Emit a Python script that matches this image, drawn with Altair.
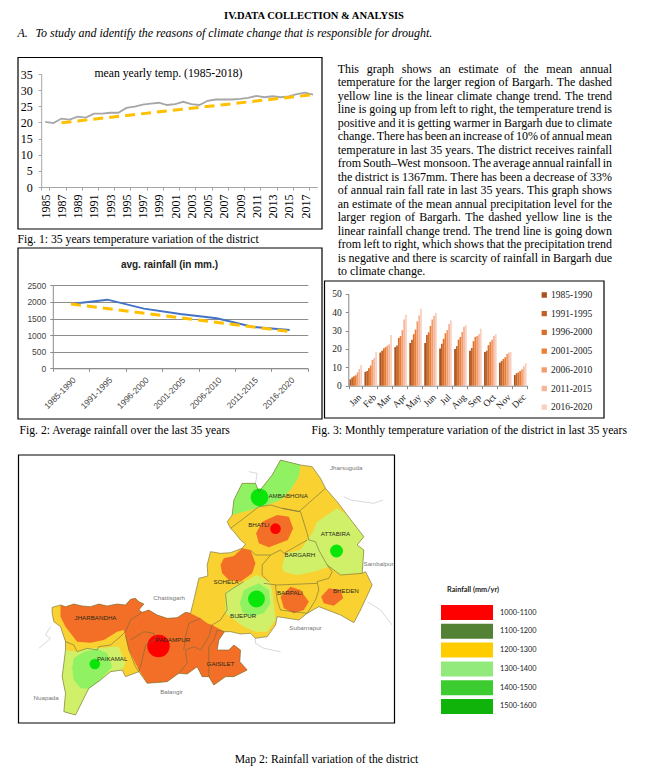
import altair as alt

SERIF = "Liberation Serif"
SANS = "Liberation Sans"
ONE = alt.Data(values=[{"a": 1}])
DX = -5.5

# ---------- chart data ----------
years = [str(y) for y in range(1985, 2019)]
temp = [20.2, 19.8, 21.2, 20.9, 21.8, 21.5, 22.7, 22.7, 23.0, 23.0, 24.5, 24.9, 25.5, 25.8, 26.1, 25.4, 25.7,
        26.4, 25.7, 25.4, 26.7, 27.1, 27.1, 27.1, 27.3, 27.6, 28.2, 27.8, 28.1, 27.8, 28.1, 28.8, 29.2, 28.6]
temp_trend_years = ["1987", "2018"]
temp_trend = [19.9, 28.6]

periods = ["1985-1990", "1991-1995", "1996-2000", "2001-2005", "2006-2010", "2011-2015", "2016-2020"]
rain = [1938, 2068, 1797, 1636, 1506, 1245, 1155]
rain_trend_periods = ["1985-1990", "2016-2020"]
rain_trend = [1935, 1110]

months = ["Jan", "Feb", "Mar", "Apr", "May", "Jun", "Jul", "Aug", "Sep", "Oct", "Nov", "Dec"]
monthly = [
    [3.5, 4.5, 5.2, 5.7, 7.2, 9.0, 11.2],
    [7.5, 8.0, 9.5, 11.0, 14.0, 15.0, 18.3],
    [18.0, 19.0, 20.3, 21.0, 21.8, 22.5, 27.5],
    [21.0, 21.8, 26.0, 27.0, 30.2, 36.0, 38.5],
    [23.2, 25.0, 28.0, 30.5, 35.0, 38.2, 41.8],
    [23.2, 27.5, 29.0, 32.5, 36.0, 38.0, 39.5],
    [20.2, 22.8, 25.5, 28.5, 30.2, 33.5, 35.5],
    [20.0, 21.5, 25.0, 26.5, 29.2, 32.0, 33.0],
    [19.0, 20.5, 24.2, 26.5, 27.0, 28.0, 31.0],
    [18.3, 19.0, 22.0, 23.8, 25.0, 27.0, 28.0],
    [12.5, 13.5, 14.5, 15.5, 17.2, 18.0, 18.3],
    [5.8, 6.8, 7.2, 8.0, 9.0, 10.5, 12.3],
]
bar_colors = ["#a9521f", "#c0622a", "#d6702c", "#ed7d31", "#f19c6e", "#f5b69c", "#f9d0bf"]

legend_ranges = ["1000-1100", "1100-1200", "1200-1300", "1300-1400", "1400-1500", "1500-1600"]
legend_colors = ["#ff0000", "#548235", "#ffcc00", "#92ea7c", "#3ccc30", "#10b30a"]

paragraph = [
    "This graph shows an estimate of the mean annual",
    "temperature for the larger region of Bargarh. The dashed",
    "yellow line is the linear climate change trend. The trend",
    "line is going up from left to right, the temperature trend is",
    "positive and it is getting warmer in Bargarh due to climate",
    "change. There has been an increase of 10% of annual mean",
    "temperature in last 35 years. The district receives rainfall",
    "from South\u2013West monsoon. The average annual rainfall in",
    "the district is 1367mm. There has been a decrease of 33%",
    "of annual rain fall rate in last 35 years. This graph shows",
    "an estimate of the mean annual precipitation level for the",
    "larger region of Bargarh. The dashed yellow line is the",
    "linear rainfall change trend. The trend line is going down",
    "from left to right, which shows that the precipitation trend",
    "is negative and there is scarcity of rainfall in Bargarh due",
    "to climate change.",
]

# ---------- map data (map units: 3 per picture pixel) ----------
outer = [(155,472),(180,465),(195,470),(220,462),(245,468),(270,470),(295,462),(320,468),(350,462),(375,465),
         (390,448),(405,445),(415,455),(430,462),(415,480),(425,487),(445,480),(470,495),(500,505),(530,503),
         (555,487),(570,490),(580,450),(595,385),(622,378),(620,345),(630,305),(660,310),(690,308),(725,295),
         (735,282),(720,270),(700,245),(690,235),(680,215),(695,195),(700,150),(725,100),(765,100),(775,125),
         (795,100),(815,75),(840,30),(900,45),(935,50),(960,85),(975,115),(1010,155),(1040,195),(1090,260),
         (1070,285),(1090,300),(1085,370),(1095,365),(1115,405),(1080,480),(1060,518),(1020,495),(955,470),
         (920,490),(895,510),(830,500),(825,525),(800,560),(765,565),(750,550),(720,552),(690,545),(672,545),
         (655,570),(650,600),(685,600),(700,585),(720,600),(718,635),(740,660),(700,680),(675,680),(640,705),
         (625,680),(605,680),(590,650),(560,672),(535,670),(500,695),(440,700),(415,665),(375,680),(365,660),
         (330,665),(300,690),(265,715),(240,765),(225,795),(190,785),(195,730),(185,680),(195,600),(195,575),
         (180,530),(160,515),(155,490)]
orange_west = [(180,465),(195,470),(220,462),(245,468),(270,470),(295,462),(320,468),(350,462),(375,465),
               (390,448),(405,445),(415,455),(430,462),(415,480),(425,487),(445,480),(470,495),(500,505),(530,503),
               (555,487),(570,490),(600,505),(620,520),(635,525),(672,545),(655,570),(650,600),(685,600),(700,585),
               (720,600),(718,635),(740,660),(700,680),(675,680),(640,705),(625,680),(605,680),(590,650),(560,672),
               (535,670),(500,695),(440,700),(415,660),(385,600),(370,540),(350,545),(310,570),(270,578),(230,575),
               (195,530),(180,500)]
light_paikamal = [(195,600),(225,605),(260,595),(290,595),(340,590),(355,590),(375,640),(365,660),(330,665),
                  (300,690),(265,715),(240,765),(225,795),(190,785),(195,730),(185,680)]
bright_paikamal = [(220,625),(250,605),(290,597),(320,610),(335,650),(300,690),(265,716),(240,715),(220,690),(215,655)]
bright_ambabhona = [(695,195),(700,150),(725,100),(765,100),(775,125),(795,100),(815,75),(840,30),(900,45),(895,80),
                    (870,120),(840,150),(800,165),(750,180)]
orange_bhatli = [(767,250),(785,215),(830,195),(865,200),(878,235),(862,270),(805,292),(775,280)]
light_attabira = [(845,350),(855,310),(900,300),(935,250),(950,215),(1010,175),(1040,195),(1090,260),(1070,285),
                  (1090,300),(1085,370),(1020,375),(985,350),(940,365),(890,375),(850,365)]
orange_sohela = [(660,345),(670,325),(700,318),(725,295),(750,300),(765,340),(755,370),(720,395),(685,390),(665,370)]
light_bijepur = [(675,425),(730,395),(770,375),(805,395),(815,420),(825,510),(800,545),(765,545),(730,530),(675,490)]
bright_bijepur = [(718,460),(730,420),(775,400),(805,420),(810,460),(790,490),(750,500),(725,485)]
orange_barpali = [(840,440),(870,410),(900,420),(925,455),(910,480),(880,490),(850,475)]
orange_bheden = [(962,440),(985,415),(1020,420),(1028,445),(1000,467),(970,460)]

YELLOW, ORANGE, LIGHT, BRIGHT = "#f9d232", "#f36f27", "#d0f06a", "#90f262"
regions = [(YELLOW, outer), (ORANGE, orange_west), (LIGHT, light_paikamal), (BRIGHT, bright_paikamal),
           (BRIGHT, bright_ambabhona), (ORANGE, orange_bhatli), (LIGHT, light_attabira), (ORANGE, orange_sohela),
           (LIGHT, light_bijepur), (BRIGHT, bright_bijepur), (ORANGE, orange_barpali), (ORANGE, orange_bheden)]

block_lines = [
    [(195,575),(220,585),(230,605),(260,595),(290,600),(295,590),(330,585),(365,555),(375,545)],
    [(375,545),(390,510),(425,487)],
    [(375,555),(385,600),(405,650),(415,665)],
    [(390,570),(430,545),(460,550),(470,565),(435,585),(425,630),(415,665)],
    [(535,670),(560,640),(555,600),(580,590),(600,600),(625,560),(635,525)],
    [(600,505),(565,520),(555,560),(550,600)],
    [(690,235),(730,205),(775,170),(810,165),(845,175),(895,185),(935,150),(975,115)],
    [(845,175),(900,185),(920,250),(925,270),(945,275),(955,300),(980,345),(1020,375),(1085,370)],
    [(750,300),(765,315),(810,315),(840,300),(850,310),(920,270)],
    [(810,315),(785,345),(785,375),(805,395)],
    [(980,345),(995,365),(985,385),(950,395),(955,420),(945,450),(920,490)],
    [(790,400),(830,405),(950,400)],
    [(825,405),(830,450),(840,480),(920,490)],
    [(730,395),(690,420),(675,430),(680,480),(660,510),(635,525)],
    [(672,545),(650,540),(640,570),(625,590),(625,680)],
]
outside_lines = [
    [(150,530),(135,555),(150,565),(115,595)],
    [(745,65),(770,70),(765,100)],
    [(1030,140),(1050,150),(1120,160),(1148,150)],
    [(1100,455),(1140,480),(1175,525)],
    [(765,550),(765,580),(790,595),(840,605)],
]

zone_u = [474, 825, 1008, 777, 768, 283]
zone_v = [588, 236, 303, 142, 447, 642]
zone_r = [12.7, 6, 7.3, 10, 9.5, 6]
zone_c = ["#ff0000", "#ff0000", "#0ae60a", "#0ae60a", "#0ae60a", "#0ae60a"]

inner_labels = ["AMBABHONA", "BHATLI", "ATTABIRA", "BARGARH", "SOHELA", "BARPALI", "BHEDEN", "BIJEPUR", "GAISILET",
                "JHARBANDHA", "PADAMPUR", "PAIKAMAL"]
inner_u = [863, 775, 1005, 898, 677, 868, 1036, 728, 660, 285, 517, 335]
inner_v = [137, 226, 251, 315, 396, 428, 422, 497, 641, 503, 570, 627]
outer_labels = ["Jharsuguda", "Sambalpur", "Subarnapur", "Balangir", "Nuapada", "Chattisgarh"]
outer_u = [1037, 1134, 915, 513, 137, 506]
outer_v = [53, 341, 533, 725, 743, 443]


# ---------- helpers ----------
def note(text, x, y, size=11.7, align="left", font=SERIF, color="black", **kw):
    return alt.Chart(ONE).mark_text(text=text, align=align, baseline="middle", font=font, fontSize=size,
                                    color=color, **kw).encode(x=alt.value(x), y=alt.value(y))


def frame(x0, y0, x1, y1):
    return alt.Chart(ONE).mark_rect(fillOpacity=0, stroke="black", strokeWidth=1.2).encode(
        x=alt.value(x0), x2=alt.value(x1), y=alt.value(y0), y2=alt.value(y1))


WIDTHS = {"a":444,"b":500,"c":444,"d":500,"e":444,"f":333,"g":500,"h":500,"i":278,"j":278,"k":500,"l":278,"m":778,
          "n":500,"o":500,"p":500,"q":500,"r":333,"s":389,"t":278,"u":500,"v":500,"w":722,"x":500,"y":500,"z":444,
          ".":250,",":250,"-":333,"\u2013":500,"%":833,"T":611,"B":667,"S":556,"W":944}


def text_width(word, size):
    return sum(WIDTHS.get(ch, 500) for ch in word) * size / 1000


def justified(lines, left, right, top, step, size):
    rows = []
    for i, line in enumerate(lines):
        words = line.split()
        widths = [text_width(w, size) for w in words]
        if i == len(lines) - 1:
            gap = size * 0.25
        else:
            gap = (right - left - sum(widths)) / (len(words) - 1)
        x = left
        for w, wd in zip(words, widths):
            rows.append({"w": w, "px": x, "py": top + i * step})
            x += wd + gap
    return rows


def polygon(pts, color):
    return {"type": "Feature", "properties": {"c": color},
            "geometry": {"type": "Polygon", "coordinates": [[list(p) for p in pts] + [list(pts[0])]]}}


def polyline(pts):
    return {"type": "Feature", "properties": {},
            "geometry": {"type": "LineString", "coordinates": [list(p) for p in pts]}}


PROJ = dict(type="identity", scale=1 / 3, translate=[-8 + DX, -2])

# ---------- header ----------
header = alt.layer(
    note("IV.DATA COLLECTION & ANALYSIS", 305.5 + DX, 7.5, size=10.5, align="center", fontWeight="bold"),
    note("A.", 9 + DX, 24.5, size=12, fontStyle="italic"),
    note("To study and identify the reasons of climate change that is responsible for drought.", 27 + DX, 24.5,
         size=12, fontStyle="italic"),
).properties(width=640, height=48)

# ---------- chart 1 ----------
serif_axis = dict(domainColor="#a6a6a6", tickColor="#a6a6a6", labelFont=SERIF, labelColor="black", title=None,
                  grid=False, tickSize=3)
x1 = alt.X("year:N", sort=years, scale=alt.Scale(type="band", domain=years, range=[32.7 + DX, 308.7 + DX],
                                                 paddingInner=0, paddingOuter=0),
           axis=alt.Axis(orient="bottom", offset=-60, values=years[::2], labelAngle=270, labelFontSize=12,
                         labelPadding=4, tickBand="extent", labelOverlap=False, **serif_axis))
y1 = alt.Y("v:Q", scale=alt.Scale(domain=[0, 35], range=[131, 18], nice=False),
           axis=alt.Axis(orient="left", offset=-(32.7 + DX), values=list(range(0, 36, 5)), labelFontSize=12,
                         labelPadding=6, **serif_axis))
temp_data = alt.Data(values=[{"year": y, "v": v} for y, v in zip(years, temp)])
temp_trend_data = alt.Data(values=[{"year": y, "v": v} for y, v in zip(temp_trend_years, temp_trend)])
chart1 = alt.layer(
    frame(9.5 + DX, 1.5, 313.5 + DX, 173),
    alt.Chart(temp_data).mark_line(color="#a6a6a6", strokeWidth=1.8).encode(x=x1, y=y1),
    alt.Chart(temp_trend_data).mark_line(color="#ffc000", strokeWidth=3, strokeDash=[10, 6]).encode(x=x1, y=y1),
    note("mean yearly temp. (1985-2018)", 160 + DX, 17, align="center"),
    note("Fig. 1: 35 years temperature variation of the district", 9 + DX, 183),
).properties(width=314 + DX, height=191)

# ---------- chart 2 ----------
sans_axis = dict(domainColor="#8c8c8c", tickColor="#8c8c8c", labelFont=SANS, labelColor="#444444", labelFontSize=8.5,
                 title=None, tickSize=3)
x2 = alt.X("p:N", sort=periods, scale=alt.Scale(type="band", domain=periods, range=[44.3 + DX, 299.3 + DX],
                                                paddingInner=0, paddingOuter=0),
           axis=alt.Axis(orient="bottom", offset=-54.7, labelAngle=315, labelPadding=4, tickBand="extent", grid=False,
                         labelOverlap=False, **sans_axis))
y2 = alt.Y("v:Q", scale=alt.Scale(domain=[0, 2500], range=[121.3, 38.3], nice=False),
           axis=alt.Axis(orient="left", offset=-(44.3 + DX), values=list(range(0, 2501, 500)), grid=True, format="d",
                         gridColor="#8c8c8c", labelPadding=4, **sans_axis))
rain_data = alt.Data(values=[{"p": p, "v": v} for p, v in zip(periods, rain)])
rain_trend_data = alt.Data(values=[{"p": p, "v": v} for p, v in zip(rain_trend_periods, rain_trend)])
chart2 = alt.layer(
    frame(9.5 + DX, 1, 313.5 + DX, 172),
    alt.Chart(rain_data).mark_line(color="#4472c4", strokeWidth=2).encode(x=x2, y=y2),
    alt.Chart(rain_trend_data).mark_line(color="#ffc000", strokeWidth=3, strokeDash=[10, 6]).encode(x=x2, y=y2),
    note("avg. rainfall (in mm.)", 161 + DX, 18, size=10, align="center", font=SANS, color="#222222",
         fontWeight="bold"),
).properties(width=314 + DX, height=176)

# ---------- paragraph ----------
para_rows = justified(paragraph, 14.7, 289, 13, 13.47, 12)
para = alt.Chart(alt.Data(values=para_rows)).mark_text(
    align="left", baseline="middle", font=SERIF, fontSize=12, color="black"
).encode(x=alt.X("px:Q", scale=None), y=alt.Y("py:Q", scale=None), text="w:N").properties(width=330, height=223)

# ---------- chart 3 ----------
bar_rows = [{"m": m, "s": s, "v": row[j]} for m, row in zip(months, monthly) for j, s in enumerate(periods)]
chart3 = alt.layer(
    frame(1.5, 2, 281, 139),
    alt.Chart(alt.Data(values=bar_rows)).mark_bar().encode(
        x=alt.X("m:N", sort=months, scale=alt.Scale(type="band", domain=months, range=[25.3, 204.7], paddingInner=0.16,
                                                    paddingOuter=0.08),
                axis=alt.Axis(orient="bottom", offset=-37.3, labelAngle=315, labelFontSize=9.5, labelPadding=3,
                              labelColor="#222222", labelFont=SERIF, domainColor="#888888", tickColor="#888888",
                              tickSize=3, tickBand="extent", grid=False, title=None, labelOverlap=False)),
        y=alt.Y("v:Q", scale=alt.Scale(domain=[0, 50], range=[106.7, 14.7], nice=False),
                axis=alt.Axis(orient="left", offset=-25.3, values=list(range(0, 51, 10)), labelFontSize=9.5,
                              labelPadding=4, labelColor="#222222", labelFont=SERIF, domainColor="#888888",
                              tickColor="#888888", tickSize=3, grid=False, title=None)),
        xOffset=alt.XOffset("s:N", sort=periods),
        color=alt.Color("s:N", scale=alt.Scale(domain=periods, range=bar_colors),
                        legend=alt.Legend(orient="none", legendX=216.5, legendY=11, title=None, symbolType="square",
                                          symbolSize=28, symbolStrokeWidth=0, labelFont=SERIF, labelFontSize=9.5,
                                          labelColor="#222222", rowPadding=8.7, clipHeight=10, labelOffset=2)),
    ),
).properties(width=330, height=144)

# ---------- captions under the charts ----------
captions = alt.layer(
    note("Fig. 2: Average rainfall over the last 35 years", 11 + DX, 7),
    note("Fig. 3: Monthly temperature variation of the district in last 35 years", 303 + DX, 7),
).properties(width=635, height=29)

# ---------- map ----------
region_data = alt.Data(values=[polygon(p, c) for c, p in regions])
block_data = alt.Data(values=[polyline(p) for p in block_lines] + [polygon(outer, "none")])
outside_data = alt.Data(values=[polyline(p) for p in outside_lines])
zone_rows = [{"u": u, "v": v, "s": 3.1416 * r * r, "c": c} for u, v, r, c in zip(zone_u, zone_v, zone_r, zone_c)]
inner_rows = [{"t": t, "u": u, "v": v} for t, u, v in zip(inner_labels, inner_u, inner_v)]
outer_rows = [{"t": t, "u": u, "v": v} for t, u, v in zip(outer_labels, outer_u, outer_v)]

map_layers = [
    frame(10 + DX, 3, 386 + DX, 271),
    alt.Chart(outside_data).mark_geoshape(filled=False, stroke="#cfcfcf", strokeWidth=0.8).project(**PROJ),
    alt.Chart(region_data).mark_geoshape(strokeWidth=0).encode(color=alt.Color("properties.c:N", scale=None)).project(**PROJ),
    alt.Chart(alt.Data(values=zone_rows)).mark_circle(opacity=1).encode(
        longitude="u:Q", latitude="v:Q", size=alt.Size("s:Q", scale=None), color=alt.Color("c:N", scale=None)
    ).project(**PROJ),
    alt.Chart(block_data).mark_geoshape(filled=False, stroke="#6f6a3a", strokeWidth=0.6).project(**PROJ),
    alt.Chart(alt.Data(values=inner_rows)).mark_text(font=SANS, fontSize=6.2, color="#2a2a1a").encode(
        longitude="u:Q", latitude="v:Q", text="t:N").project(**PROJ),
    alt.Chart(alt.Data(values=outer_rows)).mark_text(font=SANS, fontSize=6.2, color="#777777").encode(
        longitude="u:Q", latitude="v:Q", text="t:N").project(**PROJ),
]
map_panel = alt.layer(*map_layers).properties(width=395 + DX, height=273)

# ---------- map legend ----------
legend_rows = [{"r": r, "c": c} for r, c in zip(legend_ranges, legend_colors)]
y_leg = alt.Y("r:N", sort=legend_ranges, axis=None,
              scale=alt.Scale(type="band", domain=legend_ranges, range=[153, 262], paddingInner=0.2, paddingOuter=0))
map_legend = alt.layer(
    alt.Chart(alt.Data(values=legend_rows)).mark_rect().encode(
        x=alt.value(37), x2=alt.value(89), y=y_leg, color=alt.Color("c:N", scale=None)),
    alt.Chart(alt.Data(values=legend_rows)).mark_text(align="left", font="Lato", fontSize=7.3, color="#222222").encode(
        x=alt.value(96), y=y_leg, text="r:N"),
    note("Rainfall (mm/yr)", 43, 138, size=7.3, font="Lato", color="#222222", fontWeight="bold"),
).properties(width=240, height=273)

# ---------- closing caption ----------
closing = alt.layer(note("Map 2: Rainfall variation of the district", 318 + DX, 34, align="center")).properties(
    width=635, height=40)

left_col = alt.vconcat(chart1, chart2, spacing=0).resolve_scale(color="independent")
right_col = alt.vconcat(para, chart3, spacing=0).resolve_scale(color="independent")
charts_row = alt.hconcat(left_col, right_col, spacing=0).resolve_scale(color="independent")
map_row = alt.hconcat(map_panel, map_legend, spacing=0).resolve_scale(color="independent")

chart = alt.vconcat(header, charts_row, captions, map_row, closing, spacing=0).properties(
    padding={"left": 0, "top": 0, "right": 0, "bottom": 0}
).resolve_scale(color="independent").configure_view(stroke=None)

chart.save("out.html", embed_options={"renderer": "svg", "actions": False})
